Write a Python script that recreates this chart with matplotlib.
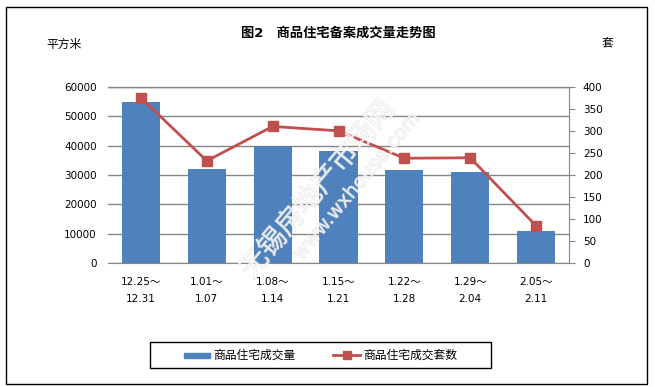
import numpy as np
import matplotlib
matplotlib.use('Agg')
import matplotlib.pyplot as plt
import matplotlib.patheffects as pe
from matplotlib.patches import Rectangle
from matplotlib.lines import Line2D

plt.rcParams['font.family'] = ['DejaVu Sans', 'Noto Sans CJK SC']

periods = ['12.25～\n12.31', '1.01～\n1.07', '1.08～\n1.14', '1.15～\n1.21',
           '1.22～\n1.28', '1.29～\n2.04', '2.05～\n2.11']
area = [54800, 32000, 40000, 38200, 31700, 31000, 11000]
units = [375, 232, 310, 300, 238, 239, 85]

bar_color = '#4F81BD'
line_color = '#C0504D'
grid_color = '#868686'

fig = plt.figure(figsize=(6.55, 3.87), dpi=100)
ax = fig.add_axes([0.1649, 0.3196, 0.7038, 0.4564])
ax2 = ax.twinx()

x = np.arange(len(periods))
ax.bar(x, area, width=0.58, color=bar_color, zorder=2)
ax.set_xlim(-0.5, len(periods) - 0.5)
ax.set_ylim(0, 60000)
ax.set_yticks(np.arange(0, 60001, 10000))
ax.yaxis.grid(True, color=grid_color, linewidth=1)
ax.set_axisbelow(True)
ax.set_xticks(x)
ax.set_xticklabels(periods, fontsize=7.5, linespacing=1.9)
ax.tick_params(axis='x', length=0, pad=10)
ax.tick_params(axis='y', length=0, pad=8, labelsize=7.5)
for s in ['top', 'left', 'right']:
    ax.spines[s].set_visible(False)
ax.spines['bottom'].set_color(grid_color)

ax2.plot(x, units, color=line_color, linewidth=2, marker='s', markersize=6.5, zorder=3)
ax2.set_ylim(0, 400)
ax2.set_yticks(np.arange(0, 401, 50))
ax2.tick_params(axis='y', direction='out', length=4, color=grid_color, pad=6, labelsize=7.5)
for s in ['top', 'left', 'bottom']:
    ax2.spines[s].set_visible(False)
ax2.spines['right'].set_color(grid_color)
ax2.plot([-0.5, 6.5], [400, 400], color=grid_color, linewidth=1, clip_on=False)

# titles and axis units
fig.text(0.517, 0.915, '图2　商品住宅备案成交量走势图', ha='center', va='center',
         fontsize=9.5, fontweight='bold')
fig.text(0.098, 0.886, '平方米', ha='center', va='center', fontsize=8.5)
fig.text(0.928, 0.886, '套', ha='center', va='center', fontsize=8.5)

# watermark
wm = dict(color='white', alpha=0.6, rotation=50, ha='center', va='center',
          path_effects=[pe.withStroke(linewidth=0.8, foreground='#d4d4d4')], zorder=5)
fig.text(0.485, 0.51, '无锡房地产市场网', fontsize=20, **wm)
fig.text(0.545, 0.52, 'www.wxhouse.com', fontsize=14, **wm)

# legend box
fig.patches.append(Rectangle((150 / 655, 1 - 368 / 387), 341 / 655, 26 / 387,
                             transform=fig.transFigure, fill=False, edgecolor='black', linewidth=1))
ly = 1 - 355 / 387
fig.patches.append(Rectangle((184 / 655, ly - 2.5 / 387), 26 / 655, 5 / 387,
                             transform=fig.transFigure, color=bar_color))
fig.text(213 / 655, ly, '商品住宅成交量', va='center', fontsize=8.5)
fig.lines.append(Line2D([333 / 655, 360 / 655], [ly, ly], transform=fig.transFigure,
                        color=line_color, linewidth=2))
fig.lines.append(Line2D([346.5 / 655], [ly], transform=fig.transFigure, marker='s',
                        markersize=5.5, color=line_color))
fig.text(363 / 655, ly, '商品住宅成交套数', va='center', fontsize=8.5)

# outer border
fig.patches.append(Rectangle((6 / 655, 1 - 384 / 387), 641 / 655, 377 / 387,
                             transform=fig.transFigure, fill=False, edgecolor='black', linewidth=1))

fig.savefig('out.png', dpi=100)
